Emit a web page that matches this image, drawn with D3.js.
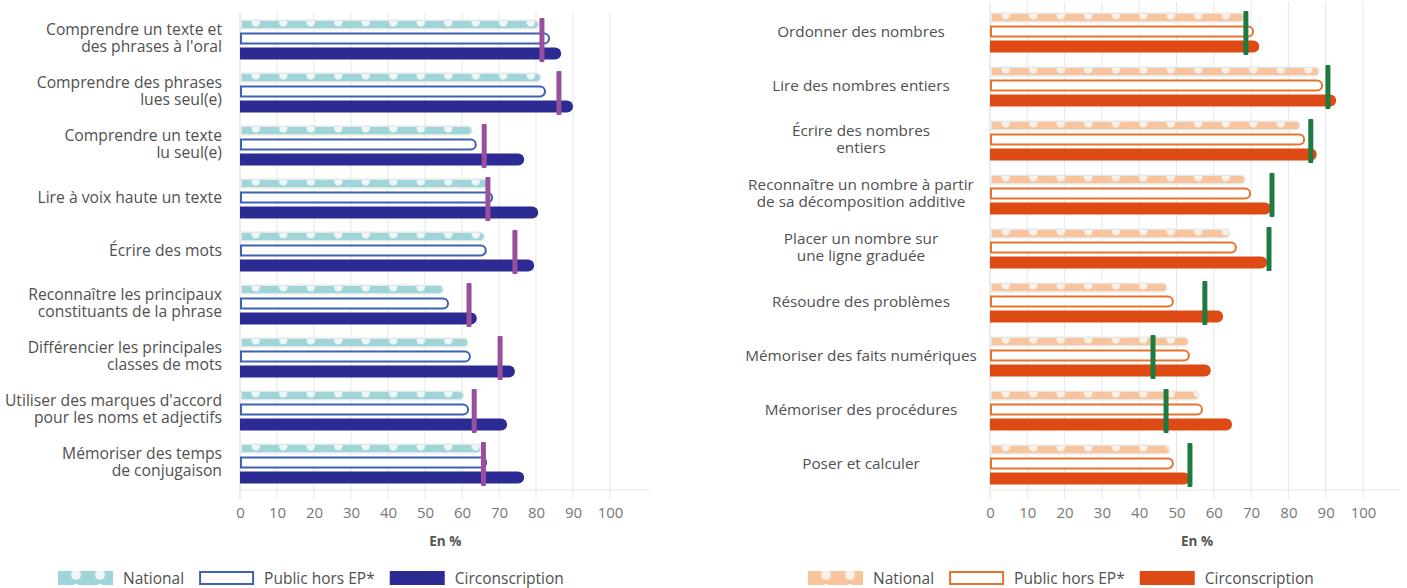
<!DOCTYPE html>
<html><head><meta charset="utf-8">
<script src="https://cdn.jsdelivr.net/npm/d3@7"></script>
<style>body{margin:0;background:#fff;} svg{display:block;font-family:"Open Sans",sans-serif;}</style>
</head><body><svg id="c" width="1407" height="588"></svg>
<script>
const ticks = [0,10,20,30,40,50,60,70,80,90,100];
const frCategories = [
  "Comprendre un texte et\ndes phrases à l'oral",
  "Comprendre des phrases\nlues seul(e)",
  "Comprendre un texte\nlu seul(e)",
  "Lire à voix haute un texte",
  "Écrire des mots",
  "Reconnaître les principaux\nconstituants de la phrase",
  "Différencier les principales\nclasses de mots",
  "Utiliser des marques d'accord\npour les noms et adjectifs",
  "Mémoriser des temps\nde conjugaison"
];
const frNational = [80.5, 81, 62.4, 66.7, 65.8, 54.7, 61.4, 60.2, 64.9];
const frPublic   = [83.8, 82.7, 64, 68.4, 66.7, 56.5, 62.4, 61.9, 66.8];
const frCirco    = [86.8, 90, 76.8, 80.6, 79.5, 64, 74.3, 72.2, 76.8];
const frMarker   = [81.6, 86.2, 66, 67, 74.3, 61.9, 70.3, 63.3, 65.8];

const mathCategories = [
  "Ordonner des nombres",
  "Lire des nombres entiers",
  "Écrire des nombres\nentiers",
  "Reconnaître un nombre à partir\nde sa décomposition additive",
  "Placer un nombre sur\nune ligne graduée",
  "Résoudre des problèmes",
  "Mémoriser des faits numériques",
  "Mémoriser des procédures",
  "Poser et calculer"
];
const mathNational = [67.8, 88, 82.8, 68.1, 64, 47.2, 53, 55.8, 48];
const mathPublic   = [70.8, 89.3, 84.5, 70, 66.2, 49.3, 53.6, 57.1, 49.3];
const mathCirco    = [72.2, 92.8, 87.6, 75.3, 74.3, 62.5, 59.2, 64.9, 53.6];
const mathMarker   = [68.6, 90.6, 86, 75.6, 74.8, 57.6, 43.7, 47.2, 53.6];

const legendLabels = ["National", "Public hors EP*", "Circonscription"];
const axisTitle = "En %";

const svg = d3.select("#c");
const defs = svg.append("defs");

const panels = [
  {id:"fr", cats:frCategories, nat:frNational, pub:frPublic, cir:frCirco, mk:frMarker,
   xr:[240,610], yr:[13.5,490.5], gridTop:12, labelX:222, anchor:"end", fs:15.7,
   natCol:"#9fd5d8", dot:"#eef7f7", pubCol:"#3d62b3", cirCol:"#2c2a93", mkCol:"#9a4f9d",
   legendX:58},
  {id:"ma", cats:mathCategories, nat:mathNational, pub:mathPublic, cir:mathCirco, mk:mathMarker,
   xr:[990,1363], yr:[6,492], gridTop:2, labelX:861, anchor:"middle", fs:15.3,
   natCol:"#f8c49d", dot:"#fdf0e6", pubCol:"#e8742c", cirCol:"#dd4a14", mkCol:"#1f7a3f",
   legendX:808}
];

function pill(x0, x1, y, h) {
  const r = h/2;
  const xe = Math.max(x0, x1 - r);
  return `M${x0},${y}H${xe}A${r},${r} 0 0 1 ${xe},${y+h}H${x0}Z`;
}

panels.forEach(p => {
  const x = d3.scaleLinear().domain([0,100]).range(p.xr);
  const y = d3.scaleBand().domain(d3.range(p.cats.length)).range(p.yr);
  const cy = i => y(i) + y.bandwidth()/2;
  const g = svg.append("g");
  const axisY = 490;

  // grid lines
  g.selectAll(".grid").data(ticks).join("line")
    .attr("x1", d => x(d)).attr("x2", d => x(d))
    .attr("y1", p.gridTop).attr("y2", axisY + 9)
    .attr("stroke", d => d === 0 ? "#d8d8d8" : "#e7e7e7").attr("stroke-width", 1);
  g.append("line").attr("x1", p.xr[0]).attr("x2", p.xr[0] + 410)
    .attr("y1", axisY).attr("y2", axisY).attr("stroke", "#e4e4e4");

  // axis tick labels
  const ax = g.append("g").attr("transform", `translate(0,${axisY + 10})`)
    .call(d3.axisBottom(x).tickValues(ticks).tickSize(0).tickPadding(7));
  ax.select(".domain").remove();
  ax.selectAll("text").attr("font-family", '"Open Sans",sans-serif').attr("font-size", 15).attr("fill", "#777");

  g.append("text").attr("x", x(55.5)).attr("y", 546).attr("text-anchor", "middle")
    .attr("font-size", 13.5).attr("font-weight", 700).attr("fill", "#555").text(axisTitle);

  // patterns per row
  p.cats.forEach((c, i) => {
    const top = cy(i) - 15.5 - 3.5;
    const pat = defs.append("pattern").attr("id", `pat-${p.id}-${i}`)
      .attr("patternUnits", "userSpaceOnUse").attr("x", p.xr[0] + 2).attr("y", top)
      .attr("width", 27.5).attr("height", 7);
    pat.append("rect").attr("width", 27.5).attr("height", 7).attr("fill", p.natCol);
    pat.append("circle").attr("cx", 13.75).attr("cy", 1.2).attr("r", 4.2).attr("fill", p.dot);
  });

  // labels
  p.cats.forEach((c, i) => {
    const lines = c.split("\n");
    const t = g.append("text").attr("text-anchor", p.anchor).attr("font-size", p.fs).attr("fill", "#505050");
    const y0 = cy(i) - 2 - (lines.length - 1) * 8.5 + 5.5;
    lines.forEach((l, k) => t.append("tspan").attr("x", p.labelX).attr("y", y0 + k * 17).text(l));
  });

  // national bars
  g.selectAll(".nh").data(p.nat).join("path")
    .attr("d", (d, i) => pill(x(0) + 1, x(d) + 1.5, cy(i) - 15.5 - 5, 10)).attr("fill", "#e6e8e8");
  g.selectAll(".nb").data(p.nat).join("path")
    .attr("d", (d, i) => pill(x(0) + 2, x(d), cy(i) - 15.5 - 3.5, 7))
    .attr("fill", (d, i) => `url(#pat-${p.id}-${i})`);

  // public bars (outline)
  g.selectAll(".pb").data(p.pub).join("path")
    .attr("d", (d, i) => pill(x(0) + 1, x(d) - 1, cy(i) - 1.5 - 5, 10))
    .attr("fill", "#fff").attr("stroke", p.pubCol).attr("stroke-width", 2);

  // circonscription bars
  g.selectAll(".cb").data(p.cir).join("path")
    .attr("d", (d, i) => pill(x(0), x(d), cy(i) + 13.5 - 6, 12)).attr("fill", p.cirCol);

  // markers
  g.selectAll(".mk").data(p.mk).join("rect")
    .attr("x", d => x(d) - 2.5).attr("width", 5)
    .attr("y", (d, i) => cy(i) - 22).attr("height", 44).attr("rx", 1)
    .attr("fill", p.mkCol);

  // legend
  const lg = g.append("g").attr("transform", "translate(0,571)");
  let lx = p.legendX;
  const legPat = defs.append("pattern").attr("id", `leg-${p.id}`).attr("patternUnits", "userSpaceOnUse")
    .attr("x", lx).attr("y", 571).attr("width", 24).attr("height", 14);
  legPat.append("rect").attr("width", 24).attr("height", 14).attr("fill", p.natCol);
  legPat.append("circle").attr("cx", 18).attr("cy", 7).attr("r", 5).attr("fill", p.dot);
  legendLabels.forEach((lab, k) => {
    const sw = lg.append("rect").attr("x", lx + (k === 1 ? 1 : 0)).attr("y", k === 1 ? 1 : 0)
      .attr("width", k === 1 ? 53 : 55).attr("height", k === 1 ? 12 : 14);
    if (k === 0) sw.attr("fill", `url(#leg-${p.id})`);
    else if (k === 1) sw.attr("fill", "#fff").attr("stroke", p.pubCol).attr("stroke-width", 2);
    else sw.attr("fill", p.cirCol);
    const t = lg.append("text").attr("x", lx + 65).attr("y", 12.5).attr("font-size", 15.5)
      .attr("fill", "#505050").text(lab);
    lx += 65 + t.node().getComputedTextLength() + 15;
  });
});
</script></body></html>
